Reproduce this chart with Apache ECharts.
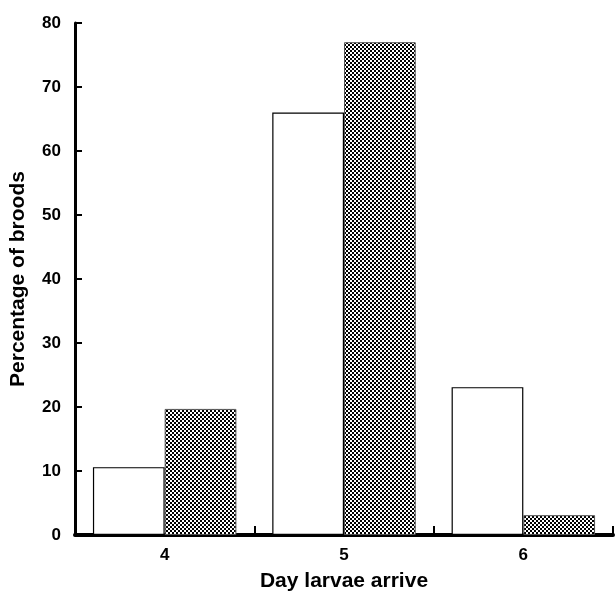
<!DOCTYPE html>
<html>
<head>
<meta charset="utf-8">
<script src="https://cdn.jsdelivr.net/npm/echarts@6/dist/echarts.min.js"></script>
<style>html,body{margin:0;padding:0;background:#fff}#c{width:616px;height:594px}</style>
</head>
<body>
<div id="c"></div>
<script>
const categories = ['4', '5', '6'];
const openBars = [10.6, 66, 23.1];
const checkBars = [19.7, 77, 3.1];
const yTicks = { min: 0, max: 80, interval: 10 };

const pc = document.createElement('canvas');
pc.width = 4; pc.height = 4;
const g = pc.getContext('2d');
g.fillStyle = '#fff'; g.fillRect(0, 0, 4, 4);
g.fillStyle = '#000'; g.fillRect(0, 0, 2, 2); g.fillRect(2, 2, 2, 2);

const chart = echarts.init(document.getElementById('c'), null, { renderer: 'canvas' });
const font = '"Liberation Sans", Arial, sans-serif';
chart.setOption({
  animation: false,
  backgroundColor: '#fff',
  grid: { left: 75, right: 3, top: 23, bottom: 59, containLabel: false, outerBoundsMode: 'none' },
  xAxis: {
    type: 'category',
    data: categories,
    name: 'Day larvae arrive',
    nameLocation: 'middle',
    nameGap: 36,
    nameTextStyle: { fontFamily: font, fontWeight: 'bold', fontSize: 21, color: '#000' },
    axisLine: { show: true, lineStyle: { color: '#000', width: 4 } },
    axisTick: { show: true, alignWithLabel: false, inside: true, length: 9, interval: 0, lineStyle: { color: '#000', width: 2 } },
    axisLabel: { fontFamily: font, fontWeight: 'bold', fontSize: 17, color: '#000', margin: 12 }
  },
  yAxis: {
    type: 'value',
    min: yTicks.min, max: yTicks.max, interval: yTicks.interval,
    name: 'Percentage of broods',
    nameLocation: 'middle',
    nameGap: 46,
    nameRotate: 90,
    nameTextStyle: { fontFamily: font, fontWeight: 'bold', fontSize: 21, color: '#000' },
    axisLine: { show: true, lineStyle: { color: '#000', width: 3 } },
    axisTick: { show: true, inside: true, length: 7, lineStyle: { color: '#000', width: 2 } },
    axisLabel: { fontFamily: font, fontWeight: 'bold', fontSize: 17, color: '#000', margin: 14 },
    splitLine: { show: false }
  },
  series: [
    {
      type: 'bar', data: openBars, barGap: '0%', barCategoryGap: '20%',
      itemStyle: { color: '#fff', borderColor: '#000', borderWidth: 1.2 }
    },
    {
      type: 'bar', data: checkBars,
      itemStyle: { color: { image: pc, repeat: 'repeat' }, borderColor: '#555', borderWidth: 1 }
    }
  ]
});
</script>
</body>
</html>
